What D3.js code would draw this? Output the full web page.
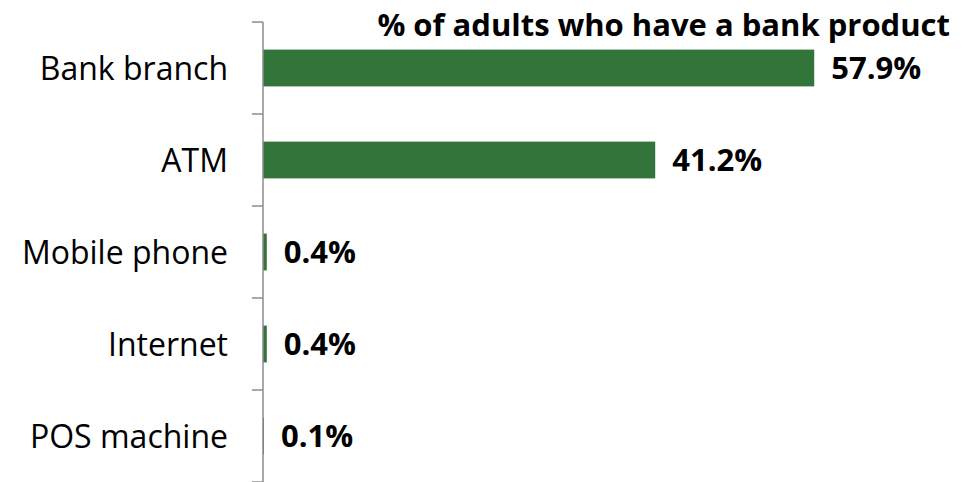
<!DOCTYPE html>
<html>
<head>
<meta charset="utf-8">
<script src="https://cdn.jsdelivr.net/npm/d3@7"></script>
<style>
  body { margin: 0; background: #fff; }
  text { font-family: "Open Sans", sans-serif; }
</style>
</head>
<body>
<div id="viz"></div>
<script>
// chart data
var categories = ["Bank branch", "ATM", "Mobile phone", "Internet", "POS machine"];
var values = [57.9, 41.2, 0.4, 0.4, 0.1];
var title = "% of adults who have a bank product";

var margin = {top: 22, right: 20, bottom: 0, left: 263},
    width = 969 - margin.left - margin.right,
    height = 482 - margin.top - margin.bottom;

var svg = d3.select("#viz")
  .append("svg")
    .attr("width", 969)
    .attr("height", 482)
  .append("g")
    .attr("transform", "translate(" + margin.left + "," + margin.top + ")");

var y = d3.scaleBand()
  .domain(categories)
  .range([0, height])
  .paddingInner(0.6)
  .paddingOuter(0.3);

var x = d3.scaleLinear()
  .domain([0, 10])
  .range([0, 95.2]);

// bars
svg.selectAll("rect.bar")
  .data(values)
  .enter().append("rect")
    .attr("class", "bar")
    .attr("x", 0)
    .attr("y", function(d, i) { return y(categories[i]); })
    .attr("width", function(d) { return x(d); })
    .attr("height", y.bandwidth())
    .attr("fill", "#33743a");

// value labels
svg.selectAll("text.val")
  .data(values)
  .enter().append("text")
    .attr("class", "val")
    .attr("x", function(d) { return x(d) + 17; })
    .attr("y", function(d, i) { return y(categories[i]) + y.bandwidth() / 2; })
    .attr("dy", "0.36em")
    .style("font-size", "31px")
    .style("font-weight", "bold")
    .text(function(d) { return d.toFixed(1) + "%"; });

// y axis with ticks between categories
var axis = svg.append("g").attr("class", "axis");
axis.append("line")
  .attr("x1", 0).attr("x2", 0)
  .attr("y1", 0).attr("y2", height)
  .attr("stroke", "#8c8c8c").attr("stroke-width", 1.5);

axis.selectAll("line.tick")
  .data(d3.range(categories.length + 1))
  .enter().append("line")
    .attr("class", "tick")
    .attr("x1", -11).attr("x2", 0)
    .attr("y1", function(i) { return i * height / categories.length; })
    .attr("y2", function(i) { return i * height / categories.length; })
    .attr("stroke", "#8c8c8c").attr("stroke-width", 1.5);

axis.selectAll("text.cat")
  .data(categories)
  .enter().append("text")
    .attr("class", "cat")
    .attr("x", -35)
    .attr("y", function(d) { return y(d) + y.bandwidth() / 2; })
    .attr("dy", "0.36em")
    .attr("text-anchor", "end")
    .style("font-size", "32px")
    .text(function(d) { return d; });

// title
svg.append("text")
  .attr("x", 950 - margin.left)
  .attr("y", 36 - margin.top)
  .attr("text-anchor", "end")
  .style("font-size", "31px")
  .style("font-weight", "bold")
  .text(title);
</script>
</body>
</html>
